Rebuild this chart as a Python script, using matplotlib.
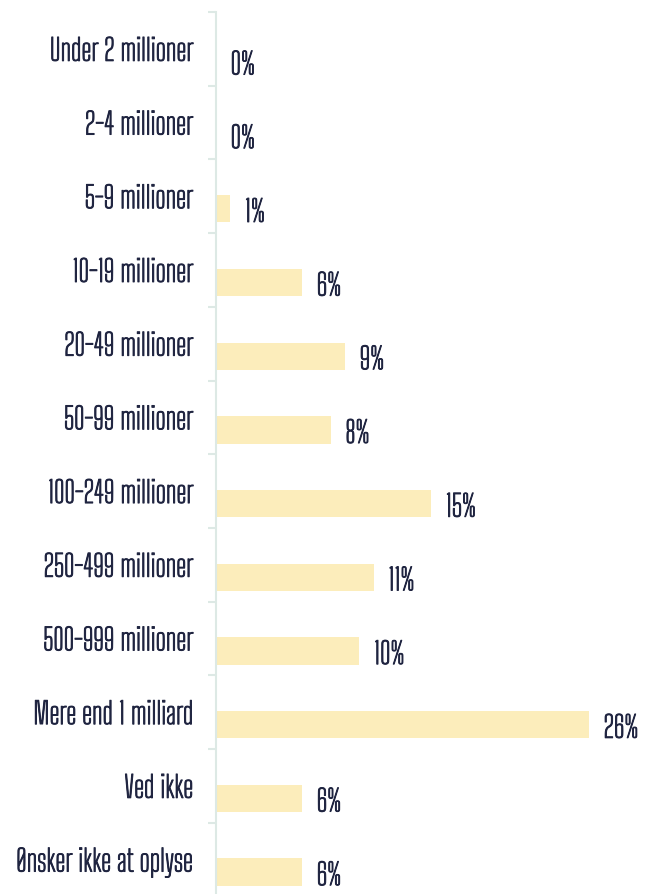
import matplotlib.pyplot as plt
import matplotlib.patheffects as pe

categories = ['Under 2 millioner', '2-4 millioner', '5-9 millioner', '10-19 millioner',
              '20-49 millioner', '50-99 millioner', '100-249 millioner', '250-499 millioner',
              '500-999 millioner', 'Mere end 1 milliard', 'Ved ikke', 'Ønsker ikke at oplyse']
values = [0, 0, 1, 6, 9, 8, 15, 11, 10, 26, 6, 6]

plt.rcParams['font.family'] = ['Big Shoulders Text', 'DejaVu Sans']

bar_col = '#fcedbb'
txt_col = '#1f2440'
axis_col = '#dde9e5'
# the font only comes in a thin cut here, so thicken it with a stroke
bold = [pe.withStroke(linewidth=0.7, foreground=txt_col)]

fig = plt.figure(figsize=(6.47, 8.95), dpi=100)
ax = fig.add_axes([216 / 647, 0, (640 - 216) / 647, (895 - 13) / 895])

pos = list(range(len(categories)))
bar_pos = [p + 0.17 for p in pos]
ax.barh(bar_pos, values, height=0.37, color=bar_col)

for y, v in zip(bar_pos, values):
    ax.annotate(f'{v}%', (v, y), xytext=(10.5, -3), textcoords='offset points',
                ha='left', va='center', fontsize=21.5, color=txt_col, path_effects=bold)

ax.set_xlim(0, 29.55)
ax.set_ylim(-0.5 + 882 / 73.7, -0.5)
ax.set_yticks(pos)
ax.set_yticklabels(categories, fontsize=21.5, color=txt_col, path_effects=bold)
ax.set_yticks([p - 0.5 for p in pos], minor=True)
ax.tick_params(axis='y', which='major', length=0, pad=16.5)
ax.tick_params(axis='y', which='minor', length=6, width=1.5, color=axis_col)
ax.set_xticks([])
for s in ['top', 'right', 'bottom']:
    ax.spines[s].set_visible(False)
ax.spines['left'].set_color(axis_col)
ax.spines['left'].set_linewidth(1.5)

fig.savefig('out.png', dpi=100)
